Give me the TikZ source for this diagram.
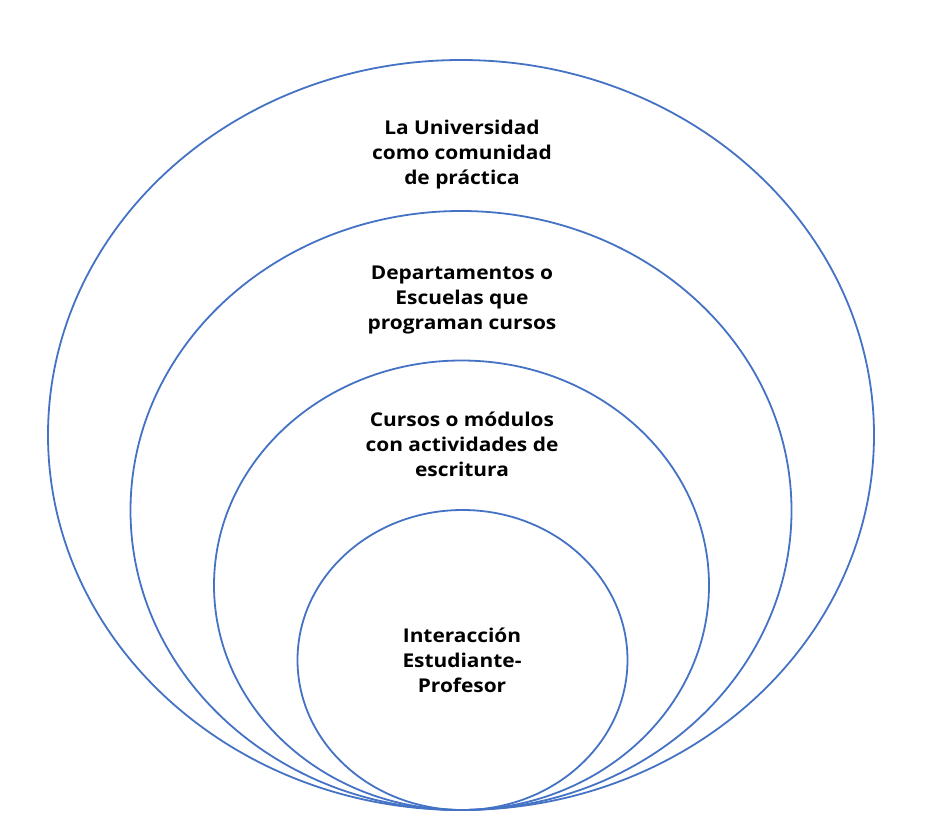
\documentclass[tikz,border=0pt]{standalone}
\usepackage{fontspec}
\setmainfont{Open Sans}[FakeStretch=1.1]
\definecolor{ringblue}{HTML}{4472C4}
\begin{document}
\begin{tikzpicture}[x=1pt,y=-1pt,
  ring/.style={draw=ringblue,line width=1.8pt},
  lbl/.style={align=center,font=\bfseries\fontsize{19}{25}\selectfont,inner sep=0pt}]
\useasboundingbox (0,0) rectangle (931,837);
\draw[ring] (461,435) ellipse [x radius=413,y radius=375];
\draw[ring] (461,510.5) ellipse [x radius=330.5,y radius=299.5];
\draw[ring] (461.5,585.25) ellipse [x radius=247.5,y radius=224.75];
\draw[ring] (462.5,660) ellipse [x radius=165,y radius=150];
\node[lbl] (uni) at (462,155) {La Universidad\\como comunidad\\de práctica};
\node[lbl] (dep) at (462,300) {Departamentos o\\Escuelas que\\programan cursos};
\node[lbl] (cur) at (462,444) {Cursos o módulos\\con actividades de\\escritura};
\node[lbl] (int) at (462,660) {Interacción\\Estudiante-\\Profesor};
\end{tikzpicture}
\end{document}
